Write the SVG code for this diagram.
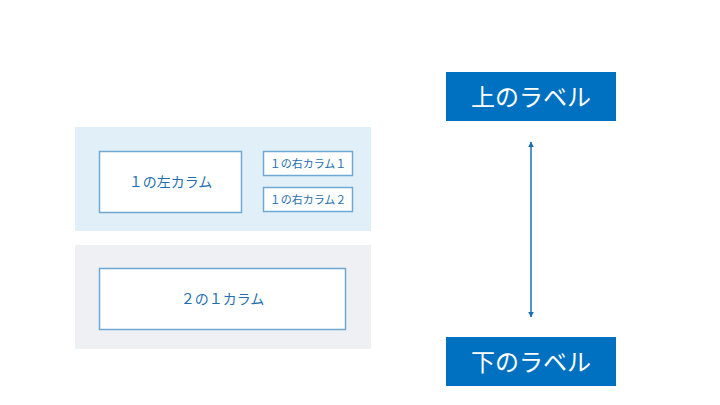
<svg xmlns="http://www.w3.org/2000/svg" width="720" height="405" viewBox="0 0 720 405">
<style>
.panel-blue{fill:#E1EFF8}
.panel-gray{fill:#EEF0F4}
.box{fill:#FFFFFF;stroke:#6FA8D2;stroke-width:1.5}
.t{font-family:"Noto Sans CJK JP","Noto Sans",sans-serif;fill:#1F6FAF;text-anchor:middle;dominant-baseline:central}
.label{fill:#0070C0}
.lt{font-family:"Noto Sans CJK JP","Noto Sans",sans-serif;fill:#FFFFFF;font-size:24px;text-anchor:middle;dominant-baseline:central}
.conn{stroke:#1F6FAF;stroke-width:1.5;fill:none}
</style>
<defs>
<marker id="ah" viewBox="0 0 10 10" refX="9" refY="5" markerWidth="4" markerHeight="4" orient="auto-start-reverse">
<path d="M0,0 L10,5 L0,10 z" fill="#1F6FAF"/>
</marker>
</defs>
<rect width="720" height="405" fill="#FFFFFF"/>
<g id="panel1"><rect class="panel-blue" x="75" y="127" width="296" height="104"/></g>
<g id="panel2"><rect class="panel-gray" x="75" y="245" width="296" height="104"/></g>
<g id="left1"><rect class="box" x="99.5" y="151.5" width="142" height="61"/><text class="t" x="170.5" y="181" font-size="14">１の左カラム</text></g>
<g id="right1"><rect class="box" x="263.5" y="151.5" width="89" height="24"/><text class="t" x="308" y="162.5" font-size="11">１の右カラム１</text></g>
<g id="right2"><rect class="box" x="263.5" y="187.5" width="89" height="24"/><text class="t" x="308" y="198.5" font-size="11">１の右カラム２</text></g>
<g id="col2"><rect class="box" x="99.5" y="268.5" width="246" height="61"/><text class="t" x="222.5" y="298" font-size="14">２の１カラム</text></g>
<g id="top"><rect class="label" x="446" y="72" width="170" height="49"/><text class="lt" x="531" y="95">上のラベル</text></g>
<g id="bottom"><rect class="label" x="446" y="337" width="170" height="49"/><text class="lt" x="531" y="360">下のラベル</text></g>
<g id="connectors"><line class="conn" x1="531" y1="142" x2="531" y2="317" marker-start="url(#ah)" marker-end="url(#ah)"/></g>
</svg>
